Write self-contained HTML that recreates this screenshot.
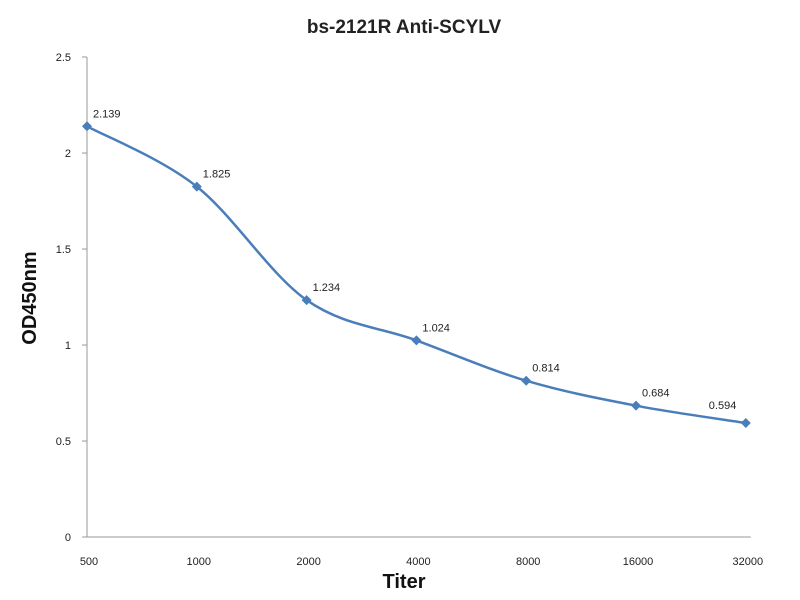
<!DOCTYPE html>
<html><head><meta charset="utf-8"><style>
body{margin:0;background:#fff;}
svg{display:block;font-family:"Liberation Sans",sans-serif;}
</style></head><body>
<svg id="chart" width="800" height="600" viewBox="0 0 800 600">
<rect width="800" height="600" fill="#fff"/>
<text x="404" y="33" text-anchor="middle" font-size="19" font-weight="bold" fill="#222">bs-2121R Anti-SCYLV</text>
<text transform="translate(36,298) rotate(-90)" text-anchor="middle" font-size="20" font-weight="bold" fill="#111">OD450nm</text>
<text x="404" y="588" text-anchor="middle" font-size="20" font-weight="bold" fill="#111">Titer</text>
<g id="axes"></g>
<g id="marks"></g>
</svg>
<script>
const categories=["500","1000","2000","4000","8000","16000","32000"];
const values=[2.139,1.825,1.234,1.024,0.814,0.684,0.594];
const valueLabels=["2.139","1.825","1.234","1.024","0.814","0.684","0.594"];
const yTicks=[0,0.5,1,1.5,2,2.5];
const yTickLabels=["0","0.5","1","1.5","2","2.5"];
const NS="http://www.w3.org/2000/svg";
const x0=87,dx=109.8,yBase=537,yScale=192;
function xs(i){return x0+i*dx;}
function ys(v){return yBase-v*yScale;}
const axes=document.getElementById('axes'),marks=document.getElementById('marks');
function mk(tag,attrs,parent){const e=document.createElementNS(NS,tag);for(const k in attrs)e.setAttribute(k,attrs[k]);parent.appendChild(e);return e;}
let e=mk('line',{x1:x0,y1:ys(2.5),x2:x0,y2:yBase,stroke:'#999','stroke-width':1},axes);


e=mk('line',{x1:x0,y1:yBase,x2:xs(categories.length-1)+5,y2:yBase,stroke:'#999','stroke-width':1},axes);


yTicks.forEach((t,i)=>{
  const l=mk('line',{x1:x0-5,y1:ys(t),x2:x0,y2:ys(t),stroke:'#999'},axes);
  
  
  const tx=mk('text',{x:x0-16,y:ys(t)+4,'text-anchor':'end','font-size':11,fill:'#222'},axes);
  tx.textContent=yTickLabels[i];
  
  
});
categories.forEach((c,i)=>{
  const tx=mk('text',{x:xs(i)+2,y:565,'text-anchor':'middle','font-size':11,fill:'#222'},axes);
  tx.textContent=c;
  
  
});
const pts=values.map((v,i)=>[xs(i),ys(v)]);
let d='M'+pts[0][0]+','+pts[0][1];
for(let i=0;i<pts.length-1;i++){
  const p0=pts[Math.max(i-1,0)],p1=pts[i],p2=pts[i+1],p3=pts[Math.min(i+2,pts.length-1)];
  const t=6;
  d+=' C'+(p1[0]+(p2[0]-p0[0])/t)+','+(p1[1]+(p2[1]-p0[1])/t)+' '+(p2[0]-(p3[0]-p1[0])/t)+','+(p2[1]-(p3[1]-p1[1])/t)+' '+p2[0]+','+p2[1];
}
const path=mk('path',{d:d,fill:'none',stroke:'#4a7ebb','stroke-width':2.5},marks);


pts.forEach((p,i)=>{
  const m=mk('polygon',{points:`${p[0]},${p[1]-5} ${p[0]+5},${p[1]} ${p[0]},${p[1]+5} ${p[0]-5},${p[1]}`,fill:'#4a7ebb'},marks);
  
  
  const last=i===pts.length-1;
  const tx=mk('text',{x:last?p[0]-37:p[0]+6,y:last?p[1]-14:p[1]-9,'font-size':11,fill:'#222'},marks);
  tx.textContent=valueLabels[i];
  
  
});
</script>
</body></html>
